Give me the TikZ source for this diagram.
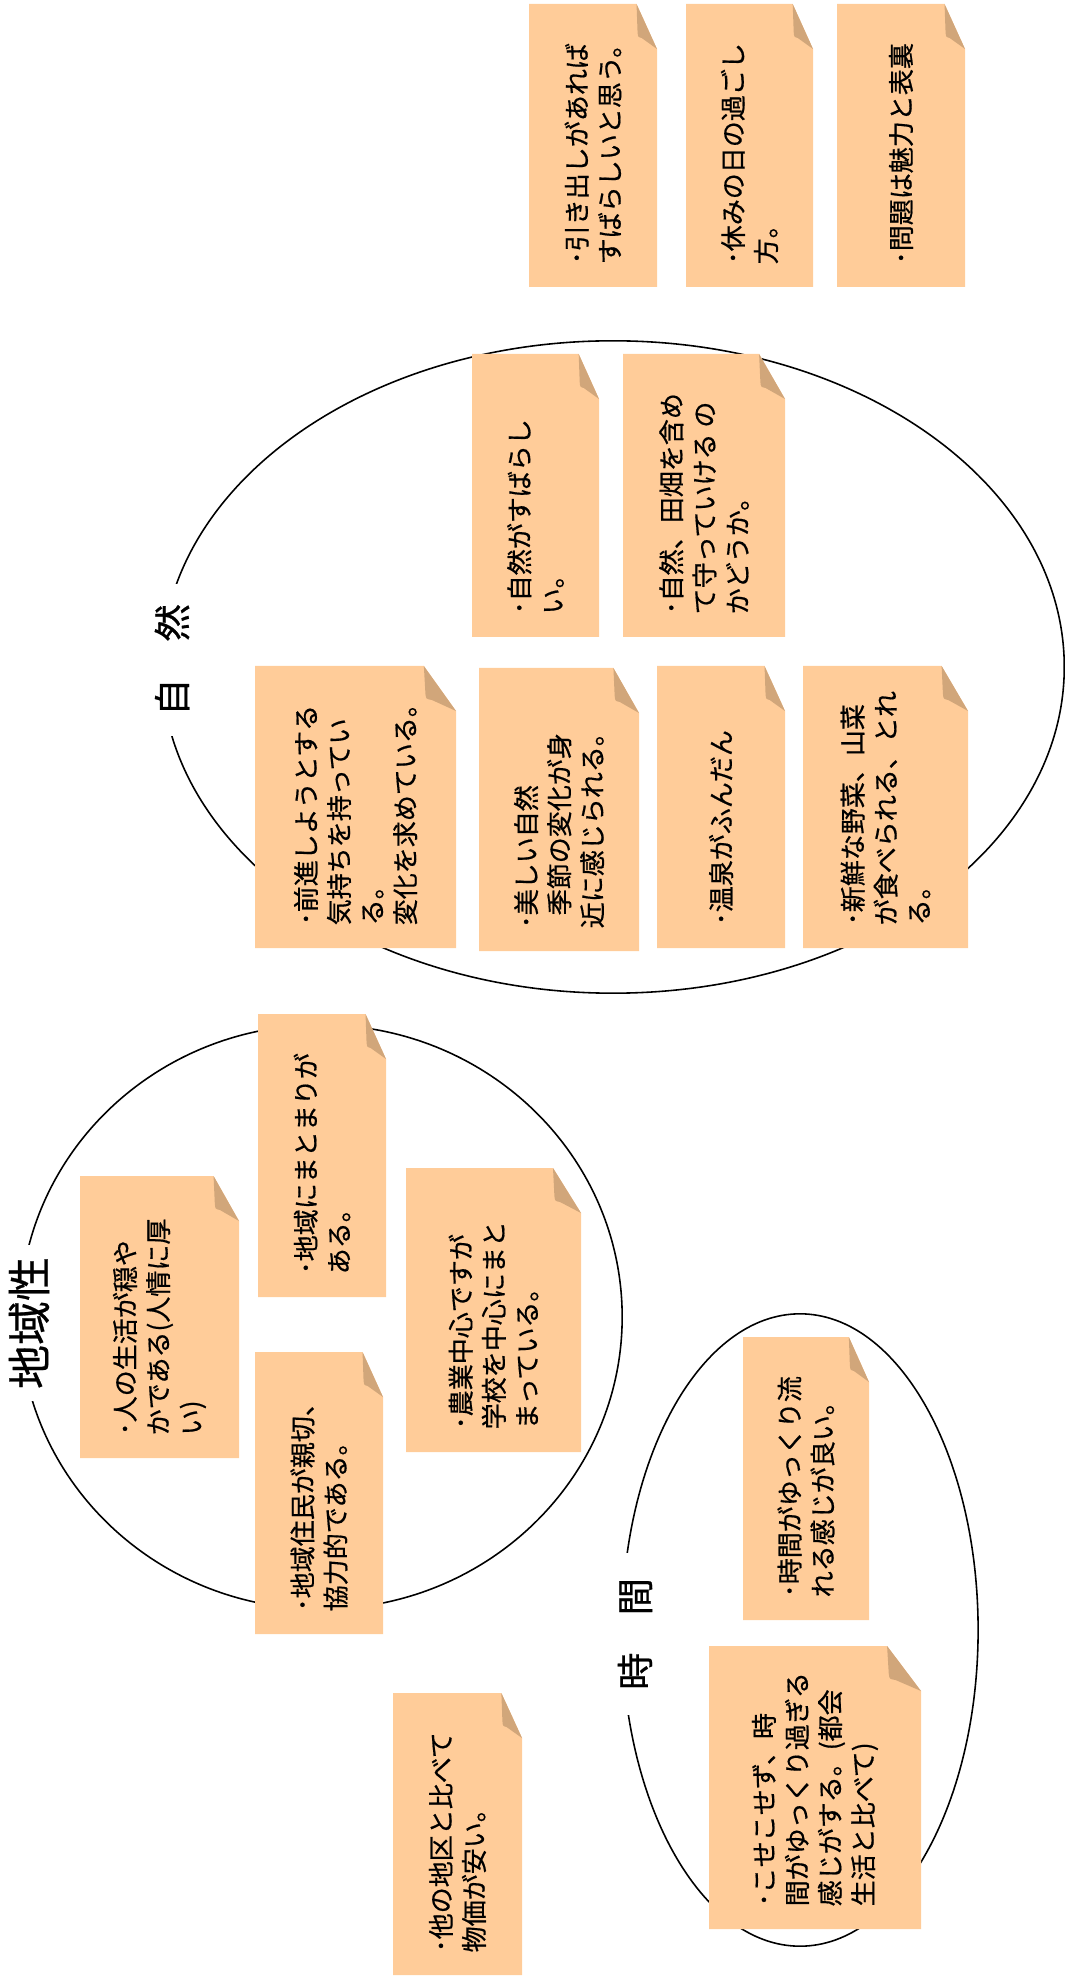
\documentclass[tikz,border=0pt]{standalone}
\usepackage{fontspec}
\setmainfont{Noto Sans CJK JP}[RawFeature={embolden=0.6}]
\usepackage{tikz}
\definecolor{memocolor}{HTML}{FFCC99}
\definecolor{foldcolor}{HTML}{D1A67A}
\colorlet{ringcolor}{black}

% sticky note: name, x0, y0, x1, y1, text (pixel units, y downwards)
\newcommand{\memo}[6]{%
  \pgfmathsetmacro{\memofold}{0.16*(#4-#2)}
  \fill[memocolor] (#2,#3) -- ({#4-\memofold},#3) -- (#4,#3+45) -- (#4,#5) -- (#2,#5) -- cycle;
  \fill[foldcolor] ({#4-\memofold},#3) -- ({#4-0.95*\memofold},#3+28)
    .. controls ({#4-0.93*\memofold},#3+33) .. ({#4-0.75*\memofold},#3+34) -- (#4,#3+45) -- cycle;
  \node[memotext] (#1) at ({(#2+#4)/2},#5-22) {#6};
}

\begin{document}
\begin{tikzpicture}[x=0.01cm, y=-0.01cm,
  memotext/.style={rotate=90, anchor=west, align=left, inner sep=0pt,
    font={\fontsize{7.4}{9.4}\selectfont}},
  grouptitle/.style={rotate=90, fill=white, inner ysep=1pt},
  ringline/.style={ringcolor, line width=0.45pt}]
	\useasboundingbox (0,0) rectangle (1065,1980);
	% groups
	\draw[ringline] (613,667) ellipse [x radius=4.51cm, y radius=3.26cm];
	\draw[ringline] (321,1317) ellipse [x radius=3.01cm, y radius=2.92cm];
	\draw[ringline] (800,1630) ellipse [x radius=1.78cm, y radius=3.16cm];
	% titles
	\node[grouptitle, inner xsep=0.2cm, font={\fontsize{10.6}{12}\selectfont}] (nature) at (172,660) {自　然};
	\node[grouptitle, inner xsep=0.12cm, font={\fontsize{12.5}{14}\selectfont}] (region) at (29,1323) {地域性};
	\node[grouptitle, inner xsep=0.25cm, font={\fontsize{10.6}{12}\selectfont}] (time) at (635,1634) {時　間};
	% notes outside
	\memo{other1}{529}{4}{657}{287}{･引き出しがあれば\\すばらしいと思う。}
	\memo{other2}{686}{4}{813}{287}{･休みの日の過ごし\\方。}
	\memo{other3}{837}{4}{965}{287}{･問題は魅力と表裏}
	% nature
	\memo{nature1}{472}{354}{599}{637}{･自然がすばらし\\い。}
	\memo{nature2}{623}{354}{785}{637}{･自然、田畑を含め\\て守っていける~の\\かどうか。}
	\memo{nature3}{255}{666}{456}{948}{･前進しようとする\\気持ちを持ってい\\る。\\変化を求めている。}
	\memo{nature4}{479}{668}{639}{951}{･美しい自然\\\hspace*{.5em}季節の変化が身\\近に感じられる。}
	\memo{nature5}{657}{666}{785}{948}{･温泉がふんだん}
	\memo{nature6}{803}{666}{968}{948}{･新鮮な野菜、山菜\\が食べられる、とれ\\る。}
	% region
	\memo{region1}{80}{1176}{239}{1458}{･人の生活が穏や\\かである(人情に厚\\い)}
	\memo{region2}{258}{1014}{386}{1297}{･地域にまとまりが\\ある。}
	\memo{region3}{406}{1168}{581}{1452}{･農業中心ですが\\学校を中心にまと\\まっている。}
	\memo{region4}{255}{1352}{383}{1634}{･地域住民が親切、\\協力的である。}
	% time
	\memo{time1}{743}{1337}{869}{1620}{･時間がゆっくり流\\れる感じが良い。}
	\memo{time2}{709}{1646}{921}{1929}{･こせこせず、時\\間がゆっくり過ぎる\\感じがする。(都会\\生活と比べて)}
	\memo{other4}{393}{1693}{522}{1975}{･他の地区と比べて\\物価が安い。}
\end{tikzpicture}
\end{document}
